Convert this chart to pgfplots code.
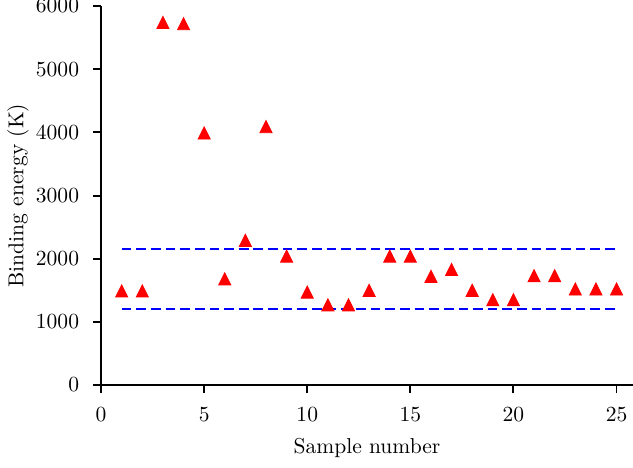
\documentclass[border=0pt]{standalone}
\usepackage{pgfplots}
\pgfplotsset{compat=1.18}
\pgfdeclareplotmark{mtri}{%
  \pgfpathmoveto{\pgfqpoint{0pt}{\pgfplotmarksize}}%
  \pgfpathlineto{\pgfqpoint{-\pgfplotmarksize}{-\pgfplotmarksize}}%
  \pgfpathlineto{\pgfqpoint{\pgfplotmarksize}{-\pgfplotmarksize}}%
  \pgfpathclose\pgfusepathqfillstroke}
\begin{document}
\begin{tikzpicture}
\begin{axis}[
  scale only axis,
  width=247pt, height=176pt,
  xmin=0, xmax=25.8, ymin=0, ymax=6000,
  axis x line*=bottom, axis y line*=left,
  axis line style={line width=0.9pt},
  tick align=outside,
  major tick length=3.7pt,
  tick style={line width=0.9pt, black},
  xtick={0,5,...,25}, ytick={0,1000,...,6000},
  scaled y ticks=false,
  /pgf/number format/1000 sep={},
  xticklabel style={yshift=-3.3pt},
  yticklabel style={xshift=-3pt},
  xlabel={Sample number}, ylabel={Binding energy (K)},
  xlabel style={yshift=-1pt},
  ylabel shift=-3.5pt,
  clip=false,
]
\addplot[blue, line width=0.9pt, dash pattern=on 4.5pt off 2.3pt] coordinates {(1,2150) (25,2150)};
\addplot[blue, line width=0.9pt, dash pattern=on 4.5pt off 2.3pt] coordinates {(1,1200) (25,1200)};
\addplot[only marks, mark=mtri, mark size=2.8pt, red, mark options={fill=red, draw=red, line width=0.4pt}] coordinates {
(1,1490) (2,1490) (3,5740) (4,5720) (5,3990) (6,1680) (7,2290) (8,4090) (9,2040) (10,1470)
(11,1270) (12,1270) (13,1500) (14,2040) (15,2040) (16,1720) (17,1830) (18,1500) (19,1350) (20,1350)
(21,1730) (22,1730) (23,1520) (24,1520) (25,1520)
};
\end{axis}
\pgfresetboundingbox
\path[use as bounding box] ([yshift=-1pt]current axis.outer south west) rectangle ([yshift=2.8pt]current axis.north east);
\end{tikzpicture}
\end{document}
